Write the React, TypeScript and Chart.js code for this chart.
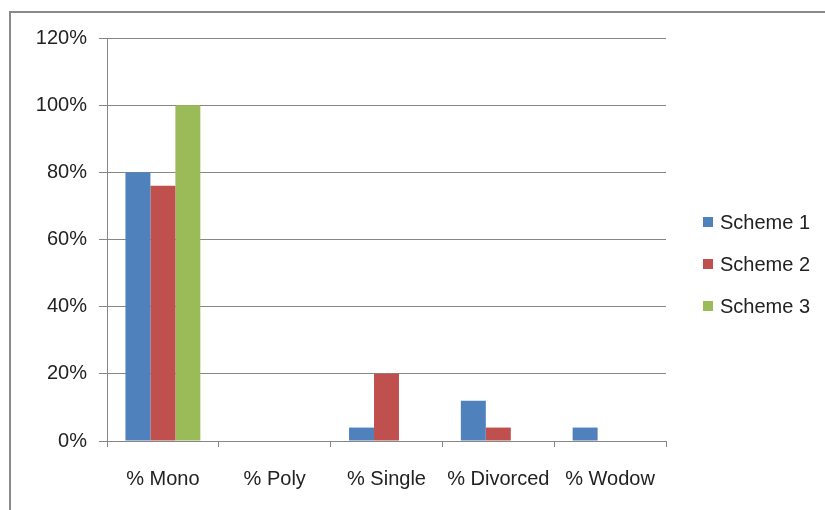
import React, { useEffect, useRef } from "react";
import { Chart, registerables } from "chart.js";

Chart.register(...registerables);

const categories = ["% Mono", "% Poly", "% Single", "% Divorced", "% Wodow"];
const scheme1 = [80, 0, 4, 12, 4];
const scheme2 = [76, 0, 20, 4, 0];
const scheme3 = [100, 0, 0, 0, 0];
const seriesNames = ["Scheme 1", "Scheme 2", "Scheme 3"];
const seriesColors = ["#4F81BD", "#C0504D", "#9BBB59"];
const yMax = 120;
const yStep = 20;

const FONT = "'Liberation Sans', Arial, sans-serif";

const legendPlugin = {
  id: "sideLegend",
  afterDraw(chart: any) {
    const ctx = chart.ctx;
    const items = chart.data.datasets;
    const x = 703;
    const centerY = 264;
    const gap = 42;
    const startY = centerY - ((items.length - 1) * gap) / 2;
    ctx.save();
    ctx.font = `20px ${FONT}`;
    ctx.textBaseline = "middle";
    ctx.textAlign = "left";
    items.forEach((ds: any, i: number) => {
      const y = startY + i * gap;
      ctx.fillStyle = ds.backgroundColor;
      ctx.fillRect(x, y - 5, 10, 10);
      ctx.fillStyle = "#222";
      ctx.fillText(ds.label, x + 17, y + 1);
    });
    ctx.restore();
  },
};

export default function App() {
  const ref = useRef<HTMLCanvasElement | null>(null);

  useEffect(() => {
    if (!ref.current) return;
    const data = [scheme1, scheme2, scheme3];
    const chart = new Chart(ref.current, {
      type: "bar",
      data: {
        labels: categories,
        datasets: data.map((d, i) => ({
          label: seriesNames[i],
          data: d,
          backgroundColor: seriesColors[i],
          borderWidth: 0,
          categoryPercentage: 0.67,
          barPercentage: 1,
        })),
      },
      plugins: [legendPlugin],
      options: {
        responsive: false,
        animation: false,
        devicePixelRatio: 1,
        layout: { padding: { left: 0, top: 38, right: 159, bottom: 9 } },
        plugins: { legend: { display: false }, tooltip: { enabled: false } },
        scales: {
          x: {
            afterFit: (s: any) => {
              s.height = 60;
            },
            grid: {
              drawOnChartArea: false,
              drawTicks: true,
              tickLength: 6,
              color: "#868686",
              offset: true,
            },
            border: { display: true, color: "#868686", width: 1 },
            ticks: {
              color: "#222",
              font: { family: FONT, size: 20 },
              padding: 20,
              maxRotation: 0,
            },
          },
          y: {
            min: 0,
            max: yMax,
            afterFit: (s: any) => {
              s.width = 107;
            },
            grid: { color: "#868686", tickLength: 8, lineWidth: 1 },
            border: { display: true, color: "#868686", width: 1 },
            ticks: {
              stepSize: yStep,
              color: "#222",
              font: { family: FONT, size: 20 },
              padding: 12,
              callback: (v: any) => `${v}%`,
            },
          },
        },
      },
    });
    return () => chart.destroy();
  }, []);

  return (
    <div
      style={{
        position: "absolute",
        left: 0,
        top: 0,
        width: 825,
        height: 510,
        overflow: "hidden",
        background: "#fff",
      }}
    >
      <div
        style={{
          position: "absolute",
          left: 9,
          top: 11,
          width: 900,
          height: 600,
          border: "2px solid #8a8a8a",
        }}
      />
      <canvas
        ref={ref}
        width={825}
        height={510}
        style={{ position: "absolute", left: 0, top: 0, width: 825, height: 510 }}
      />
    </div>
  );
}
